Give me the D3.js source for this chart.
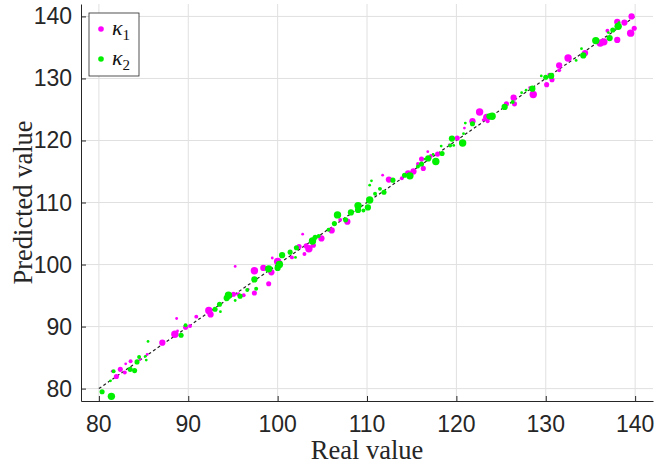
<!DOCTYPE html>
<html>
<head>
<meta charset="utf-8">
<script src="https://cdn.jsdelivr.net/npm/d3@7"></script>
<style>
  body { margin: 0; background: #fff; }
  svg { display: block; }
</style>
</head>
<body>
<div id="chart"></div>
<script>
// kappa_1 samples: real value, predicted value, marker weight
const realK1 = [81.96, 81.5, 82.4, 82.9, 83.0, 83.55, 84.6, 85.4, 87.1, 88.5, 88.8, 88.7, 89.7, 90.2, 90.9,
  92.3, 92.5, 95.06, 95.6, 96.2, 96.7, 97.4, 95.25, 97.4, 99.0, 98.4, 99.3, 99.4, 100.0, 101.6, 102.3, 102.4,
  102.8, 103.0, 103.5, 104.0, 103.2, 104.9, 106.05, 107.0, 107.8, 111.75, 112.45, 113.9, 114.6, 115.2, 115.7,
  116.3, 116.1, 116.8, 117.15, 117.9, 119.2, 120.1, 120.9, 121.8, 122.6, 123.4, 123.5, 123.0, 125.6, 126.4,
  126.5, 128.2, 128.6, 130.1, 130.4, 130.7, 131.5, 131.5, 132.5, 134.4, 136.1, 136.5, 138.0, 136.9, 138.0,
  138.8, 139.6, 139.5, 139.9];
const predK1 = [81.96, 82.8, 83.1, 82.6, 84.0, 84.4, 84.7, 85.5, 87.4, 88.75, 89.3, 91.3, 89.9, 90.1, 91.6,
  92.6, 91.96, 95.2, 95.2, 95.05, 96.0, 95.4, 99.7, 99.0, 96.9, 99.45, 98.75, 101.05, 100.5, 101.15, 102.8, 102.9,
  104.9, 101.7, 102.55, 103.1, 103.0, 104.2, 105.5, 107.2, 106.9, 114.4, 113.7, 113.9, 114.7, 115.0, 116.2,
  115.5, 117.0, 118.2, 117.5, 117.8, 119.3, 120.4, 122.0, 123.1, 124.6, 123.7, 123.1, 123.3, 125.9, 126.9,
  125.9, 128.5, 127.4, 129.0, 130.6, 129.8, 132.1, 131.3, 133.3, 134.1, 135.7, 135.9, 136.2, 137.7, 139.1,
  139.0, 140.0, 137.3, 138.1];
const sizeK1 = [2.5, 1.5, 2.5, 2, 1.5, 2, 1.5, 1.5, 3, 3.5, 1.5, 1.5, 2.5, 2, 2,
  3.5, 3, 2.5, 2, 2, 1.5, 2.5, 1.5, 3.5, 2.5, 3, 3, 1.5, 3.5, 2, 1.5, 2.5,
  1.5, 2, 3.5, 2.5, 2.5, 3, 3, 2, 3, 1.5, 3, 2, 3, 3, 2,
  2.5, 2.5, 1.5, 2, 2.5, 1.5, 2.5, 1.5, 3, 3.5, 3.5, 2, 1.5, 2.5, 3,
  2.5, 1.5, 3.5, 2.5, 2, 2.5, 3, 2, 3.5, 3, 3.5, 3.5, 3, 2, 3,
  3, 3, 3.5, 2.5];

// kappa_2 samples
const realK2 = [80.36, 81.4, 81.3, 81.65, 83.5, 84.0, 84.27, 84.5, 85.2, 85.3, 85.5, 89.2, 89.7,
  93.0, 93.5, 93.6, 94.5, 94.3, 95.25, 95.8, 96.6, 97.6, 97.4, 99.0, 100.2, 100.0, 100.5, 101.4, 102.0, 102.1, 103.9,
  104.2, 104.6, 105.7, 106.35, 107.6, 106.7, 108.2, 109.0, 109.0, 109.6, 110.1, 110.3, 110.9, 110.3, 110.5, 111.9,
  111.45, 112.9, 114.2, 114.8, 115.7, 116.1, 116.5, 116.85, 117.7, 117.4, 118.4, 118.3, 119.3, 119.5, 119.7, 120.7,
  120.8, 121.8, 121.0, 123.7, 124.0, 125.4, 126.3, 127.3, 127.8, 128.5, 129.5, 130.0, 130.6, 133.4, 134.2, 134.0,
  135.6, 137.15, 137.0, 137.5, 138.1, 138.2];
const predK2 = [79.5, 78.75, 81.25, 82.8, 83.1, 82.9, 84.3, 85.1, 85.2, 84.6, 87.6, 88.6, 90.2,
  92.8, 93.6, 92.4, 95.05, 94.6, 94.2, 94.9, 95.9, 96.1, 97.6, 99.3, 100.0, 99.45, 101.5, 102.0, 101.15, 102.7, 103.8,
  104.4, 104.6, 105.6, 106.6, 107.2, 108.0, 108.4, 109.5, 108.8, 108.7, 109.2, 110.4, 111.4, 112.8, 113.5, 111.65,
  112.2, 113.6, 114.4, 114.3, 115.8, 116.2, 117.0, 117.1, 116.6, 117.75, 117.9, 119.1, 119.2, 120.3, 119.2, 119.6,
  121.1, 122.7, 122.8, 123.9, 123.9, 125.4, 126.2, 127.7, 128.1, 128.35, 130.4, 130.2, 130.4, 132.9, 133.7, 134.8,
  136.1, 136.5, 137.4, 137.8, 138.4, 139.0];
const sizeK2 = [2.5, 3.5, 1.5, 2, 2.5, 2.5, 2.5, 2, 1.5, 1.5, 1.5, 2.5, 2,
  2.5, 2.5, 1.5, 3.5, 3, 1.5, 2.5, 2, 2, 3, 3.5, 3.5, 3, 3, 2.5, 1.5, 2.5, 3.5,
  2.5, 2, 2, 2.5, 2.5, 3.5, 3, 3.5, 3, 2, 3, 3.5, 2, 1.5, 1.5, 2.5,
  2, 2.5, 2.5, 3.5, 2, 2.5, 1.5, 3, 3.5, 1.5, 2.5, 1.5, 2, 3, 1.5, 3.5,
  1.5, 2.5, 1.5, 3, 3.5, 3, 2, 1.5, 1.5, 3, 1.5, 2.5, 3, 1.5, 3, 1.5,
  3.5, 3, 1.5, 2.5, 3.5, 1.5];

const ticks = [80, 90, 100, 110, 120, 130, 140];
const fitLine = [80, 140];

const width = 657, height = 466;
const margin = {left: 81, right: 4, top: 4, bottom: 65};
const axisColor = "#262626";

const svg = d3.select("#chart").append("svg")
    .attr("width", width)
    .attr("height", height);

const x = d3.scaleLinear().domain([78, 142]).range([margin.left, width - margin.right]);
const y = d3.scaleLinear().domain([78, 142]).range([height - margin.bottom, margin.top]);
const r = d3.scaleLinear().domain([1.5, 3.5]).range([1.4, 3.7]);

// grid
svg.append("g").selectAll("line.vg").data(ticks).join("line")
    .attr("x1", d => x(d)).attr("x2", d => x(d))
    .attr("y1", y(142)).attr("y2", y(78))
    .attr("stroke", "#e0e0e0").attr("stroke-width", 1);
svg.append("g").selectAll("line.hg").data(ticks).join("line")
    .attr("x1", x(78)).attr("x2", x(142))
    .attr("y1", d => y(d)).attr("y2", d => y(d))
    .attr("stroke", "#e0e0e0").attr("stroke-width", 1);

// axes, ticks pointing inward
const xAxis = svg.append("g")
    .attr("transform", `translate(0,${y(78)})`)
    .call(d3.axisTop(x).tickValues(ticks).tickSize(5).tickSizeOuter(0).tickFormat(""));
const yAxis = svg.append("g")
    .attr("transform", `translate(${x(78)},0)`)
    .call(d3.axisRight(y).tickValues(ticks).tickSize(5).tickSizeOuter(0).tickFormat(""));
[xAxis, yAxis].forEach(g => {
    g.selectAll("path, line").attr("stroke", axisColor).attr("stroke-width", 1);
});

// tick labels
svg.append("g").selectAll("text").data(ticks).join("text")
    .attr("x", d => x(d)).attr("y", y(78) + 31)
    .attr("text-anchor", "middle")
    .style("font-family", "'Liberation Sans', Arial, sans-serif")
    .style("font-size", "23px").attr("fill", axisColor)
    .text(d => d);
svg.append("g").selectAll("text").data(ticks).join("text")
    .attr("x", x(78) - 9).attr("y", d => y(d) + 8)
    .attr("text-anchor", "end")
    .style("font-family", "'Liberation Sans', Arial, sans-serif")
    .style("font-size", "23px").attr("fill", axisColor)
    .text(d => d);

// axis titles
svg.append("text")
    .attr("x", (x(78) + x(142)) / 2).attr("y", 459)
    .attr("text-anchor", "middle")
    .style("font-family", "'Liberation Serif', 'Times New Roman', serif")
    .style("font-size", "26.5px").attr("fill", axisColor)
    .text("Real value");
svg.append("text")
    .attr("transform", `translate(32,${(y(78) + y(142)) / 2}) rotate(-90)`)
    .attr("text-anchor", "middle")
    .style("font-family", "'Liberation Serif', 'Times New Roman', serif")
    .style("font-size", "26.5px").attr("fill", axisColor)
    .text("Predicted value");

// reference line y = x
svg.append("line")
    .attr("x1", x(fitLine[0])).attr("y1", y(fitLine[0]))
    .attr("x2", x(fitLine[1])).attr("y2", y(fitLine[1]))
    .attr("stroke", "#222").attr("stroke-width", 1.2)
    .attr("stroke-dasharray", "3,2.5");

// scatter points
function drawSeries(xs, ys, ss, color) {
    svg.append("g").selectAll("circle").data(d3.range(xs.length)).join("circle")
        .attr("cx", i => x(xs[i]))
        .attr("cy", i => y(ys[i]))
        .attr("r", i => r(ss[i]))
        .attr("fill", color);
}
drawSeries(realK1, predK1, sizeK1, "#ff00ff");
drawSeries(realK2, predK2, sizeK2, "#00f000");

// legend
const legend = svg.append("g").attr("transform", "translate(89,13)");
legend.append("rect")
    .attr("width", 50).attr("height", 63)
    .attr("fill", "#fff").attr("stroke", axisColor).attr("stroke-width", 0.8);
const items = [["1", "#ff00ff"], ["2", "#00f000"]];
items.forEach((it, i) => {
    legend.append("circle").attr("cx", 12).attr("cy", 16 + i * 30).attr("r", 2.8).attr("fill", it[1]);
    const t = legend.append("text")
        .attr("x", 23).attr("y", 22 + i * 30)
        .style("font-family", "'Liberation Serif', 'Times New Roman', serif")
        .style("font-size", "22px").attr("fill", "#111");
    t.append("tspan").style("font-style", "italic").text("κ");
    t.append("tspan").attr("dy", 5).style("font-size", "15px").text(it[0]);
});
</script>
</body>
</html>
